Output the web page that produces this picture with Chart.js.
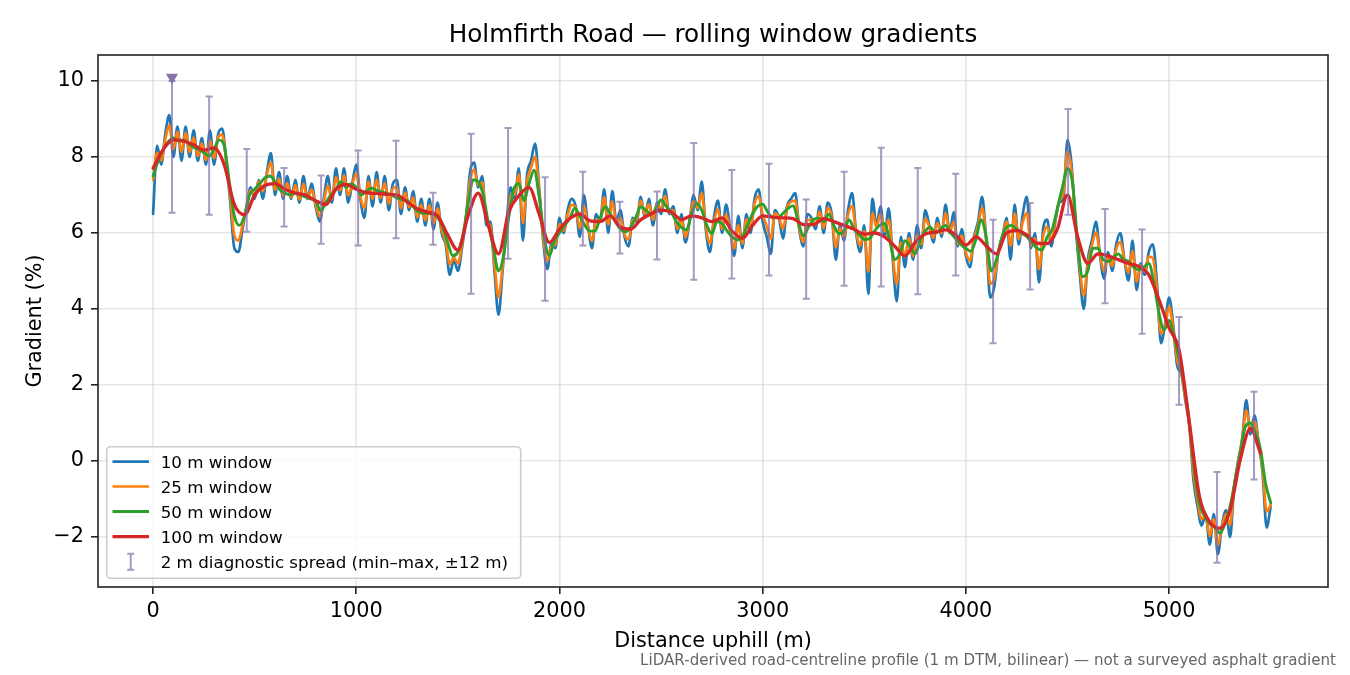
<!DOCTYPE html>
<html>
<head>
<meta charset="utf-8">
<title>Holmfirth Road — rolling window gradients</title>
<script src="https://cdn.jsdelivr.net/npm/chart.js@4.4.1/dist/chart.umd.min.js"></script>
<style>
  html, body { margin: 0; padding: 0; background: #fff; }
  canvas { display: block; }
</style>
</head>
<body>
<canvas id="gradientChart" width="1350" height="675"></canvas>
<script>
// sample spacing (m) of each series
const STEP_10 = 20;
const STEP_25 = 20;
const STEP_50 = 25;
const STEP_100 = 50;

// 10 m window gradient (%), every 20 m from 0 m
const grad10 = [
    6.5, 8.3, 7.8, 8.6, 9.1, 8.0, 8.8, 7.9, 8.8, 8.0,
    8.7, 7.9, 8.5, 7.8, 8.7, 7.8, 8.6, 8.75, 7.9, 6.8,
    5.6, 5.5, 6.1, 6.7, 7.2, 6.9, 7.4, 6.9, 7.6, 8.1,
    7.0, 7.6, 6.9, 7.5, 6.9, 7.4, 6.8, 7.5, 6.9, 7.3,
    6.7, 6.3, 6.9, 7.5, 6.8, 7.7, 7.0, 7.7, 6.8, 7.3,
    7.8, 6.9, 6.4, 7.5, 6.7, 7.6, 6.8, 7.5, 6.6, 7.3,
    7.4, 6.5, 7.2, 6.6, 7.1, 6.3, 6.9, 6.2, 6.9, 6.1,
    6.8, 6.0, 5.7, 4.9, 5.3, 5.0, 5.6, 6.4, 7.6, 7.85,
    7.2, 7.5, 6.2, 6.3, 5.0, 3.85, 5.0, 6.3, 7.2, 6.9,
    7.7, 5.8, 7.5, 7.9, 8.35, 7.2, 5.8, 5.05, 5.7, 5.6,
    6.4, 6.0, 6.6, 6.9, 6.7, 5.9, 7.0, 6.2, 5.6, 6.5,
    6.3, 7.15, 6.0, 7.1, 6.3, 6.6, 5.9, 5.65, 6.4, 6.3,
    6.95, 6.4, 6.9, 6.2, 6.8, 6.5, 7.15, 6.5, 6.7, 6.0,
    6.5, 5.75, 6.3, 7.0, 6.6, 7.35, 6.1, 5.5, 6.4, 6.85,
    6.0, 6.75, 6.1, 5.4, 6.45, 5.6, 6.5, 6.0, 6.9, 7.15,
    6.3, 5.9, 5.45, 6.6, 6.4, 5.85, 6.7, 6.9, 7.05, 6.1,
    5.65, 6.5, 6.4, 6.1, 6.7, 6.0, 6.8, 6.5, 5.3, 6.2,
    5.8, 6.6, 7.05, 6.0, 5.5, 6.2, 4.4, 6.9, 6.2, 6.7,
    5.9, 6.65, 5.3, 4.2, 5.9, 5.1, 6.0, 5.3, 6.2, 5.6,
    6.6, 6.2, 5.75, 6.4, 5.9, 6.75, 6.0, 6.55, 5.65, 6.1,
    5.4, 5.1, 5.9, 6.3, 6.95, 5.8, 4.3, 4.6, 5.5, 5.9,
    6.4, 5.3, 6.75, 5.7, 6.5, 6.95, 5.6, 6.0, 4.7, 6.1,
    6.35, 5.65, 6.3, 6.8, 6.9, 8.45, 7.8, 6.2, 4.95, 4.0,
    5.3, 5.8, 6.3, 5.4, 4.8, 5.5, 5.0, 5.7, 6.0, 5.3,
    4.75, 5.8, 4.5, 5.2, 4.9, 5.5, 5.7, 4.7, 3.1, 3.6,
    4.3, 3.6, 2.5, 2.3, 1.6, 0.9, -0.5, -1.2, -1.7, -1.4,
    -2.2, -1.4, -2.45, -1.7, -1.3, -2.0, -0.7, 0.0, 0.6, 1.6,
    0.7, 1.2, 0.5, -0.3, -1.75, -1.2
];

// 25 m window, every 20 m
const grad25 = [
    7.4, 8.11, 7.91, 8.47, 8.83, 8.2, 8.66, 8.12, 8.64, 8.13,
    8.52, 8.02, 8.36, 7.91, 8.44, 7.96, 8.52, 8.59, 7.91, 6.95,
    5.94, 5.8, 6.2, 6.69, 7.13, 7.0, 7.35, 7.1, 7.55, 7.85,
    7.14, 7.43, 6.97, 7.31, 6.94, 7.26, 6.88, 7.29, 6.91, 7.14,
    6.76, 6.43, 6.82, 7.25, 6.89, 7.48, 7.12, 7.52, 6.98, 7.29,
    7.56, 6.96, 6.66, 7.35, 6.89, 7.41, 6.92, 7.32, 6.77, 7.17,
    7.21, 6.65, 7.06, 6.68, 6.94, 6.41, 6.75, 6.33, 6.74, 6.25,
    6.65, 6.08, 5.78, 5.18, 5.35, 5.2, 5.7, 6.41, 7.36, 7.67,
    7.26, 7.33, 6.34, 6.18, 5.19, 4.31, 5.13, 6.18, 7.0, 7.01,
    7.54, 6.26, 7.35, 7.72, 8.01, 7.1, 5.92, 5.27, 5.64, 5.7,
    6.24, 6.06, 6.48, 6.74, 6.66, 6.12, 6.7, 6.16, 5.78, 6.35,
    6.34, 6.94, 6.23, 6.83, 6.28, 6.4, 5.96, 5.83, 6.34, 6.36,
    6.85, 6.49, 6.76, 6.34, 6.76, 6.65, 6.98, 6.54, 6.6, 6.11,
    6.36, 5.89, 6.31, 6.84, 6.66, 7.05, 6.17, 5.73, 6.28, 6.63,
    6.1, 6.49, 6.04, 5.59, 6.21, 5.72, 6.36, 6.15, 6.77, 6.97,
    6.48, 6.18, 5.85, 6.52, 6.41, 6.12, 6.67, 6.82, 6.85, 6.15,
    5.76, 6.34, 6.35, 6.21, 6.57, 6.12, 6.66, 6.43, 5.62, 6.12,
    5.9, 6.48, 6.71, 6.02, 5.67, 6.05, 4.98, 6.53, 6.16, 6.5,
    6.04, 6.35, 5.38, 4.66, 5.75, 5.38, 5.87, 5.39, 5.96, 5.7,
    6.38, 6.17, 5.87, 6.26, 5.99, 6.53, 6.02, 6.29, 5.71, 5.93,
    5.48, 5.28, 5.83, 6.2, 6.67, 5.84, 4.66, 4.81, 5.48, 5.9,
    6.3, 5.66, 6.51, 5.84, 6.29, 6.53, 5.67, 5.86, 5.05, 5.91,
    6.17, 5.81, 6.35, 6.85, 7.06, 8.15, 7.63, 6.27, 5.13, 4.35,
    5.18, 5.67, 6.02, 5.43, 5.0, 5.4, 5.13, 5.58, 5.76, 5.3,
    4.95, 5.53, 4.72, 5.14, 4.99, 5.38, 5.34, 4.51, 3.35, 3.56,
    4.06, 3.5, 2.66, 2.33, 1.66, 0.94, -0.32, -1.04, -1.53, -1.44,
    -1.98, -1.53, -2.21, -1.74, -1.4, -1.68, -0.68, -0.03, 0.55, 1.33,
    0.82, 1.04, 0.49, -0.2, -1.33, -1.16
];

// 50 m window, every 25 m
const grad50 = [
    7.5, 7.9, 8.2, 8.4, 8.5, 8.42, 8.45, 8.35, 8.25, 8.2,
    8.12, 8.02, 8.2, 8.45, 8.3, 7.35, 6.45, 6.2, 6.45, 7.0,
    7.15, 7.3, 7.45, 7.5, 7.35, 7.13, 7.05, 7.0, 7.05, 7.0,
    6.95, 6.9, 6.85, 6.58, 6.8, 7.0, 7.15, 7.35, 7.2, 7.3,
    7.2, 7.0, 7.1, 7.18, 7.12, 7.08, 7.04, 7.0, 6.92, 6.87,
    6.85, 6.72, 6.58, 6.52, 6.52, 6.5, 6.42, 6.15, 5.75, 5.4,
    5.5, 5.95, 6.75, 7.4, 7.35, 7.0, 6.25, 5.6, 5.0, 5.4,
    6.4, 7.15, 7.3, 6.85, 7.3, 7.65, 6.95, 5.9, 5.4, 5.8,
    6.0, 6.2, 6.38, 6.65, 6.45, 6.2, 6.05, 6.05, 6.4, 6.69,
    6.5, 6.3, 6.1, 6.03, 6.15, 6.4, 6.69, 6.6, 6.5, 6.65,
    6.87, 6.7, 6.55, 6.3, 6.15, 6.08, 6.5, 6.78, 6.6, 6.2,
    5.98, 6.3, 6.25, 6.05, 5.9, 5.82, 5.9, 6.2, 6.5, 6.7,
    6.76, 6.55, 6.4, 6.4, 6.52, 6.65, 6.72, 6.3, 5.92, 6.15,
    6.35, 6.39, 6.3, 6.5, 6.2, 5.98, 6.05, 6.35, 6.1, 5.95,
    5.83, 5.85, 6.05, 6.2, 6.25, 5.8, 5.3, 5.45, 5.8, 5.65,
    5.45, 5.8, 6.05, 6.15, 6.0, 6.1, 6.2, 6.0, 5.85, 5.7,
    5.6, 5.52, 5.85, 6.35, 5.9, 5.0, 5.3, 5.85, 6.15, 6.2,
    6.1, 6.0, 5.9, 5.75, 5.6, 5.55, 5.9, 6.1, 6.65, 7.2,
    7.7, 7.3, 5.75, 4.85, 5.0, 5.6, 5.6, 5.3, 5.25, 5.35,
    5.45, 5.3, 5.25, 5.1, 5.03, 5.1, 5.2, 4.7, 3.9, 3.45,
    3.7, 3.25, 2.65, 1.95, 1.0, -0.3, -1.15, -1.45, -1.65, -1.75,
    -1.9, -1.65, -1.2, -0.5, 0.2, 0.9, 1.0, 0.75, 0.3, -0.6,
    -1.1
];

// 100 m window, every 50 m
const grad100 = [
    7.7, 8.2, 8.45, 8.42, 8.32, 8.18, 8.24, 7.8, 6.75, 6.48,
    7.0, 7.25, 7.3, 7.15, 7.05, 7.0, 6.85, 6.75, 7.15, 7.28,
    7.15, 7.06, 7.04, 7.02, 7.0, 6.82, 6.64, 6.55, 6.45, 5.95,
    5.55, 6.45, 7.05, 6.2, 5.45, 6.55, 6.98, 7.2, 6.5, 5.75,
    6.1, 6.38, 6.5, 6.32, 6.3, 6.45, 6.15, 6.1, 6.35, 6.5,
    6.6, 6.55, 6.35, 6.45, 6.4, 6.3, 6.4, 6.05, 5.86, 6.2,
    6.45, 6.42, 6.4, 6.38, 6.22, 6.22, 6.38, 6.3, 6.2, 6.1,
    5.97, 6.0, 5.9, 5.65, 5.4, 5.75, 5.97, 6.02, 6.08, 5.95,
    5.68, 5.9, 5.66, 5.45, 6.0, 6.06, 5.95, 5.73, 5.72, 6.1,
    7.0, 5.9, 5.2, 5.45, 5.4, 5.3, 5.2, 5.12, 4.9, 4.25,
    3.5, 2.9, 1.0, -0.95, -1.6, -1.77, -1.3, 0.03, 0.85, 0.2
];

// 2 m diagnostic spread (min–max within ±12 m)
const spreadDist = [93, 276, 461, 645, 827, 1009, 1196, 1378, 1565, 1747,
    1929, 2115, 2297, 2480, 2661, 2848, 3031, 3214, 3401, 3583,
    3763, 3950, 4134, 4316, 4503, 4685, 4867, 5049, 5236, 5418];
const spreadLow = [6.53, 6.48, 6.03, 6.17, 5.72, 5.67, 5.86, 5.69, 4.40, 5.32,
    4.22, 5.67, 5.46, 5.30, 4.77, 4.80, 4.88, 4.27, 4.61, 4.59,
    4.39, 4.88, 3.10, 4.51, 6.48, 4.15, 3.35, 1.48, -2.68, -0.49];
const spreadHigh = [10.0, 9.59, 8.21, 7.71, 7.51, 8.17, 8.43, 7.06, 8.61, 8.76,
    7.47, 7.61, 6.82, 7.09, 8.37, 7.66, 7.82, 6.88, 7.61, 8.24,
    7.71, 7.56, 6.35, 6.79, 9.26, 6.63, 6.09, 3.79, -0.29, 1.82];

// marker at the steepest point
const peakDist = [93];
const peakGrad = [10.1];

const xTickValues = [0, 1000, 2000, 3000, 4000, 5000];
const yTickValues = [-2, 0, 2, 4, 6, 8, 10];

const seriesLabels = ['10 m window', '25 m window', '50 m window', '100 m window'];
const spreadLabel = '2 m diagnostic spread (min\u2013max, \u00b112 m)';

const colors = ['#1f77b4', '#ff7f0e', '#2ca02c', '#d62728'];
const widths = [2.7, 2.7, 2.9, 3.3];
const spreadColor = 'rgba(128, 110, 168, 0.7)';

function toPoints(values, step) {
    return values.map((v, i) => ({ x: i * step, y: v }));
}

const FONT = "'DejaVu Sans', 'Liberation Sans', sans-serif";

const decorations = {
    id: 'decorations',
    beforeDraw(chart) {
        const ctx = chart.ctx;
        ctx.save();
        ctx.fillStyle = '#fff';
        ctx.fillRect(0, 0, chart.width, chart.height);
        ctx.restore();
    },
    afterDatasetsDraw(chart) {
        const ctx = chart.ctx;
        const xs = chart.scales.x;
        const ys = chart.scales.y;
        const area = chart.chartArea;
        ctx.save();
        ctx.beginPath();
        ctx.rect(area.left, area.top, area.right - area.left, area.bottom - area.top);
        ctx.clip();
        ctx.strokeStyle = spreadColor;
        ctx.lineWidth = 2;
        for (let i = 0; i < spreadDist.length; i++) {
            const px = xs.getPixelForValue(spreadDist[i]);
            const top = ys.getPixelForValue(spreadHigh[i]);
            const bot = ys.getPixelForValue(spreadLow[i]);
            ctx.beginPath();
            ctx.moveTo(px, top);
            ctx.lineTo(px, bot);
            ctx.moveTo(px - 3.5, top);
            ctx.lineTo(px + 3.5, top);
            ctx.moveTo(px - 3.5, bot);
            ctx.lineTo(px + 3.5, bot);
            ctx.stroke();
        }
        ctx.restore();
    },
    afterDraw(chart) {
        const ctx = chart.ctx;
        const area = chart.chartArea;
        const cx = (area.left + area.right) / 2;
        ctx.save();

        // axes frame
        ctx.strokeStyle = '#222';
        ctx.lineWidth = 1.6;
        ctx.strokeRect(area.left, area.top, area.right - area.left, area.bottom - area.top);

        // title and axis titles
        ctx.fillStyle = '#000';
        ctx.textAlign = 'center';
        ctx.textBaseline = 'alphabetic';
        ctx.font = '24.7px ' + FONT;
        ctx.fillText('Holmfirth Road \u2014 rolling window gradients', cx, 42.3);
        ctx.font = '20.8px ' + FONT;
        ctx.fillText('Distance uphill (m)', cx, 646.5);
        ctx.save();
        ctx.translate(40.6, (area.top + area.bottom) / 2);
        ctx.rotate(-Math.PI / 2);
        ctx.fillText('Gradient (%)', 0, 0);
        ctx.restore();

        // footnote
        ctx.font = '15.1px ' + FONT;
        ctx.fillStyle = '#666';
        ctx.textAlign = 'right';
        ctx.fillText('LiDAR-derived road-centreline profile (1 m DTM, bilinear) \u2014 not a surveyed asphalt gradient', 1336, 665);

        // legend
        const lx = 106.7, ly = 446.7, lw = 414, lh = 131.6, r = 4;
        ctx.beginPath();
        ctx.moveTo(lx + r, ly);
        ctx.arcTo(lx + lw, ly, lx + lw, ly + lh, r);
        ctx.arcTo(lx + lw, ly + lh, lx, ly + lh, r);
        ctx.arcTo(lx, ly + lh, lx, ly, r);
        ctx.arcTo(lx, ly, lx + lw, ly, r);
        ctx.closePath();
        ctx.fillStyle = 'rgba(255,255,255,0.8)';
        ctx.fill();
        ctx.strokeStyle = '#cccccc';
        ctx.lineWidth = 1.6;
        ctx.stroke();

        const rows = [461.7, 486.5, 511.5, 536.7, 561.7];
        ctx.font = '16.7px ' + FONT;
        ctx.textAlign = 'left';
        for (let i = 0; i < 4; i++) {
            ctx.strokeStyle = colors[i];
            ctx.lineWidth = widths[i];
            ctx.beginPath();
            ctx.moveTo(112.5, rows[i]);
            ctx.lineTo(149, rows[i]);
            ctx.stroke();
            ctx.fillStyle = '#000';
            ctx.fillText(seriesLabels[i], 160.7, rows[i] + 6.1);
        }
        const ey = rows[4];
        ctx.strokeStyle = spreadColor;
        ctx.lineWidth = 2;
        ctx.beginPath();
        ctx.moveTo(130.7, ey - 8);
        ctx.lineTo(130.7, ey + 8);
        ctx.moveTo(127.2, ey - 8);
        ctx.lineTo(134.2, ey - 8);
        ctx.moveTo(127.2, ey + 8);
        ctx.lineTo(134.2, ey + 8);
        ctx.stroke();
        ctx.fillStyle = '#000';
        ctx.fillText(spreadLabel, 160.7, ey + 6.1);

        ctx.restore();
    }
};

function lineSet(label, values, step, idx, order) {
    return {
        label: label,
        data: toPoints(values, step),
        borderColor: colors[idx],
        borderWidth: widths[idx],
        pointRadius: 0,
        cubicInterpolationMode: 'monotone',
        borderJoinStyle: 'round',
        borderCapStyle: 'round',
        fill: false,
        order: order,
    };
}

const gridStyle = {
    color: 'rgba(176,176,176,0.3)',
    lineWidth: 1.6,
    tickLength: 7,
    tickColor: '#222',
    tickWidth: 1.6,
};

const ctx = document.getElementById('gradientChart').getContext('2d');
new Chart(ctx, {
    type: 'line',
    data: {
        datasets: [
            lineSet(seriesLabels[3], grad100, STEP_100, 3, 1),
            lineSet(seriesLabels[2], grad50, STEP_50, 2, 2),
            lineSet(seriesLabels[1], grad25, STEP_25, 1, 3),
            lineSet(seriesLabels[0], grad10, STEP_10, 0, 4),
            {
                label: 'steepest',
                data: peakDist.map((d, i) => ({ x: d, y: peakGrad[i] })),
                showLine: false,
                pointStyle: 'triangle',
                rotation: 180,
                pointRadius: 7,
                pointBackgroundColor: 'rgba(128, 110, 168, 0.95)',
                pointBorderColor: 'rgba(128, 110, 168, 0.95)',
                pointBorderWidth: 0,
                order: 0,
            },
        ],
    },
    options: {
        responsive: false,
        animation: false,
        devicePixelRatio: 1,
        layout: { padding: { left: 0, right: 22, top: 55, bottom: 0 } },
        plugins: {
            legend: { display: false },
            title: { display: false },
            tooltip: { enabled: false },
        },
        scales: {
            x: {
                type: 'linear',
                min: -271,
                max: 5782,
                border: { display: false },
                grid: gridStyle,
                ticks: {
                    maxRotation: 0,
                    autoSkip: false,
                    padding: 5,
                    color: '#000',
                    font: { family: FONT, size: 20.8 },
                    callback: (v) => String(v),
                },
                afterBuildTicks(scale) {
                    scale.ticks = xTickValues.map((v) => ({ value: v }));
                },
                afterFit(scale) { scale.height = 88; },
            },
            y: {
                min: -3.316,
                max: 10.684,
                border: { display: false },
                grid: gridStyle,
                ticks: {
                    padding: 7,
                    color: '#000',
                    font: { family: FONT, size: 20.8 },
                    callback: (v) => String(v).replace('-', '\u2212'),
                },
                afterBuildTicks(scale) {
                    scale.ticks = yTickValues.map((v) => ({ value: v }));
                },
                afterFit(scale) { scale.width = 98; },
            },
        },
    },
    plugins: [decorations],
});
</script>
</body>
</html>
